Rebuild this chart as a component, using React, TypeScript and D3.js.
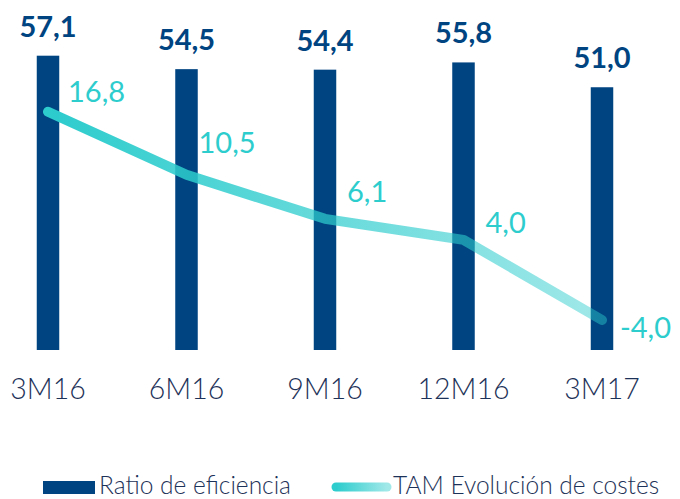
import React, { useEffect, useRef } from "react";
import * as d3 from "d3";

// data
const periods = ["3M16", "6M16", "9M16", "12M16", "3M17"];
const efficiencyRatio = [57.1, 54.5, 54.4, 55.8, 51.0];
const costGrowthTam = [16.8, 10.5, 6.1, 4.0, -4.0];
const legendLabels = ["Ratio de eficiencia", "TAM Evolución de costes"];

// hand-tuned label nudges for the line values (dx, dy from the point)
const lineLabelNudge: [number, number][] = [
  [20, -10],
  [12, -22],
  [22, -17],
  [22, -7],
  [18, 18],
];

const NAVY = "#004481";
const AQUA = "#2dcccd";
const TEXT = "#1d3258";
const fmt = (v: number) => v.toFixed(1).replace(".", ",");

function addFade(defs: d3.Selection<SVGDefsElement, unknown, null, undefined>, id: string, x1: number, x2: number) {
  const g = defs
    .append("linearGradient")
    .attr("id", id)
    .attr("gradientUnits", "userSpaceOnUse")
    .attr("x1", x1)
    .attr("x2", x2)
    .attr("y1", 0)
    .attr("y2", 0);
  g.append("stop").attr("offset", "0%").attr("stop-color", AQUA).attr("stop-opacity", 1);
  g.append("stop").attr("offset", "100%").attr("stop-color", AQUA).attr("stop-opacity", 0.45);
}

export default function App() {
  const ref = useRef<SVGSVGElement | null>(null);

  useEffect(() => {
    const svg = d3.select(ref.current);
    svg.selectAll("*").remove();

    const x = d3.scalePoint<string>().domain(periods).range([48, 602]);
    const yBar = d3.scaleLinear().domain([0, 57.1]).range([351, 55.7]);
    const yLine = d3.scaleLinear().domain([-4, 16.8]).range([320, 111.7]);
    const barW = 22.5;
    const baseY = 350;

    const defs = svg.append("defs");
    addFade(defs, "lineGrad", x(periods[0])!, x(periods[periods.length - 1])!);
    addFade(defs, "legGrad", 336, 387);

    // bars
    svg
      .selectAll(".bar")
      .data(efficiencyRatio)
      .join("rect")
      .attr("class", "bar")
      .attr("x", (d, i) => x(periods[i])! - barW / 2)
      .attr("y", (d) => yBar(d))
      .attr("width", barW)
      .attr("height", (d) => baseY - yBar(d))
      .attr("fill", NAVY);

    // bar values
    svg
      .selectAll(".barLabel")
      .data(efficiencyRatio)
      .join("text")
      .attr("class", "barLabel")
      .attr("x", (d, i) => x(periods[i])!)
      .attr("y", (d) => yBar(d) - 19)
      .attr("text-anchor", "middle")
      .attr("font-family", "Lato, sans-serif")
      .attr("font-weight", 700)
      .attr("font-size", 29)
      .attr("fill", NAVY)
      .text((d) => fmt(d));

    // line
    const line = d3
      .line<number>()
      .x((d, i) => x(periods[i])!)
      .y((d) => yLine(d));

    svg
      .append("path")
      .datum(costGrowthTam)
      .attr("d", line)
      .attr("fill", "none")
      .attr("stroke", "url(#lineGrad)")
      .attr("stroke-width", 10)
      .attr("stroke-linecap", "round")
      .attr("stroke-linejoin", "round");

    svg
      .selectAll(".lineLabel")
      .data(costGrowthTam)
      .join("text")
      .attr("class", "lineLabel")
      .attr("x", (d, i) => x(periods[i])! + lineLabelNudge[i][0])
      .attr("y", (d, i) => yLine(d) + lineLabelNudge[i][1])
      .attr("font-family", "Lato, sans-serif")
      .attr("font-weight", 400)
      .attr("font-size", 29)
      .attr("fill", AQUA)
      .text((d) => fmt(d));

    // x axis labels
    svg
      .selectAll(".tick")
      .data(periods)
      .join("text")
      .attr("class", "tick")
      .attr("x", (d) => x(d)!)
      .attr("y", 399)
      .attr("text-anchor", "middle")
      .attr("font-family", "Lato, sans-serif")
      .attr("font-weight", 300)
      .attr("font-size", 28.5)
      .attr("fill", TEXT)
      .text((d) => d);

    // legend
    const legend = svg.append("g");
    legend.append("rect").attr("x", 43).attr("y", 481).attr("width", 52).attr("height", 13).attr("fill", NAVY);
    legend
      .append("text")
      .attr("x", 99)
      .attr("y", 494)
      .attr("font-family", "Lato, sans-serif")
      .attr("font-weight", 300)
      .attr("font-size", 24.5)
      .attr("fill", TEXT)
      .text(legendLabels[0]);
    legend
      .append("line")
      .attr("x1", 336)
      .attr("x2", 387)
      .attr("y1", 487)
      .attr("y2", 487)
      .attr("stroke", "url(#legGrad)")
      .attr("stroke-width", 9)
      .attr("stroke-linecap", "round");
    legend
      .append("text")
      .attr("x", 393)
      .attr("y", 494)
      .attr("font-family", "Lato, sans-serif")
      .attr("font-weight", 300)
      .attr("font-size", 24.5)
      .attr("fill", TEXT)
      .text(legendLabels[1]);
  }, []);

  return (
    <svg
      ref={ref}
      width={680}
      height={499}
      style={{ position: "absolute", left: 0, top: 0, display: "block", background: "#fff" }}
    />
  );
}
